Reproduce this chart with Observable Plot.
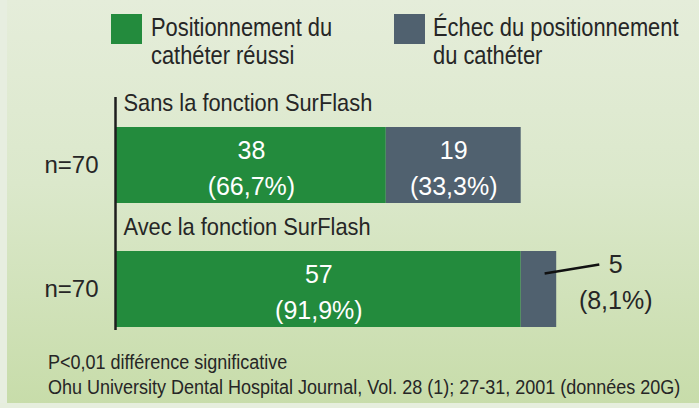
<!DOCTYPE html>
<html>
<head>
<meta charset="utf-8">
<script src="https://cdn.jsdelivr.net/npm/d3@7"></script>
<script src="https://cdn.jsdelivr.net/npm/@observablehq/plot@0.6"></script>
<style>
  html, body { margin: 0; padding: 0; }
  body { width: 699px; height: 408px; overflow: hidden; }
  #wrap {
    position: relative; width: 699px; height: 408px; overflow: hidden;
    background: linear-gradient(180deg, #e5edda 0%, #dbe8cb 45%, #c7dca9 100%);
    font-family: "Liberation Sans", Arial, sans-serif;
    color: #262626;
  }
  #leftstrip { position: absolute; left: 0; top: 0; width: 7px; height: 408px; background: #e7eee0; }
  #bottomstrip { position: absolute; left: 0; bottom: 0; width: 699px; height: 5px; background: #e6eedd; }
  .sw { position: absolute; width: 31px; height: 30px; }
  .lt { position: absolute; font-size: 26.5px; line-height: 28px; white-space: nowrap;
        transform: scaleX(0.825); transform-origin: left top; }
  #chart { position: absolute; left: 0; top: 88px; }
  .fn { position: absolute; left: 48px; font-size: 20px; line-height: 25px; white-space: nowrap;
        transform: scaleX(0.9); transform-origin: left top; }
</style>
</head>
<body>
<div id="wrap">
  <div id="leftstrip"></div>
  <div id="bottomstrip"></div>
  <div id="legend"></div>
  <div id="chart"></div>
  <div id="foot"></div>
</div>
<script>
// ---- data ----
const categories = ["Sans la fonction SurFlash", "Avec la fonction SurFlash"];
const nLabels = ["n=70", "n=70"];
const seriesNames = ["Positionnement du cathéter réussi", "Échec du positionnement du cathéter"];
const legendLines = [["Positionnement du", "cathéter réussi"], ["Échec du positionnement", "du cathéter"]];
const successCounts = [38, 57];
const successPct = ["66,7%", "91,9%"];
const failureCounts = [19, 5];
const failurePct = ["33,3%", "8,1%"];
const seriesColors = ["#238b3d", "#50616f"];
const footnotes = [
  "P<0,01 différence significative",
  "Ohu University Dental Hospital Journal, Vol. 28 (1); 27-31, 2001 (données 20G)"
];

// ---- derived rows ----
const rows = [];
categories.forEach((cat, i) => {
  const a = successCounts[i], b = failureCounts[i];
  rows.push({cat, series: seriesNames[0], x1: 0, x2: a, value: a, pct: successPct[i]});
  rows.push({cat, series: seriesNames[1], x1: a, x2: a + b, value: b, pct: failurePct[i]});
});
rows.forEach(r => { r.mid = (r.x1 + r.x2) / 2; r.label = r.value + "\n(" + r.pct + ")"; });
const inside = rows.filter(r => r.value >= 10);
const outside = rows.filter(r => r.value < 10);
const nRows = categories.map((cat, i) => ({cat, n: nLabels[i]}));

// ---- legend ----
const legendPos = [{sx: 111, tx: 151}, {sx: 394, tx: 433}];
const legend = document.getElementById("legend");
seriesNames.forEach((s, i) => {
  const sw = document.createElement("div");
  sw.className = "sw";
  sw.style.left = legendPos[i].sx + "px";
  sw.style.top = "14px";
  sw.style.background = seriesColors[i];
  legend.appendChild(sw);
  const t = document.createElement("div");
  t.className = "lt";
  t.style.left = legendPos[i].tx + "px";
  t.style.top = "13px";
  t.innerHTML = legendLines[i].join("<br>");
  legend.appendChild(t);
});

// ---- footer ----
const foot = document.getElementById("foot");
footnotes.forEach((f, i) => {
  const d = document.createElement("div");
  d.className = "fn";
  d.style.top = (350 + i * 25) + "px";
  d.textContent = f;
  foot.appendChild(d);
});

// ---- chart ----
const regular = '"Liberation Sans", Arial, sans-serif';
const condense = (k) => function (index, scales, values, dimensions, context, next) {
  const g = next(index, scales, values, dimensions, context);
  d3.select(g).selectAll("text").attr("transform", function () {
    return (this.getAttribute("transform") || "") + " scale(" + k + ",1)";
  });
  return g;
};

const chart = Plot.plot({
  width: 699,
  height: 250,
  marginLeft: 116,
  marginRight: 15,
  marginTop: 9,
  marginBottom: 8,
  style: {background: "transparent", overflow: "visible", fontFamily: regular},
  x: {domain: [0, 80], axis: null},
  y: {domain: categories, axis: null, paddingInner: 0.39, paddingOuter: 0.13, align: 0.895},
  color: {domain: seriesNames, range: seriesColors},
  marks: [
    Plot.barX(rows, {x1: "x1", x2: "x2", y: "cat", fill: "series"}),
    Plot.ruleX([0], {stroke: "#1e1e1e", strokeWidth: 2.5, dx: -1}),
    Plot.text(categories, {x: 0, y: d => d, text: d => d, textAnchor: "start", dx: 7, dy: -62,
      fontSize: 24, fill: "#262626", render: condense(0.91)}),
    Plot.text(nRows, {x: 0, y: "cat", text: "n", textAnchor: "end", dx: -18, fontSize: 24, fill: "#262626"}),
    Plot.text(inside, {x: "mid", y: "cat", text: "label", fill: "white", fontSize: 25, lineHeight: 1.44}),
    Plot.text(outside, {x: "x2", y: "cat", text: "label", dx: 59, dy: -10, fill: "#262626", fontSize: 25, lineHeight: 1.44}),
    Plot.link(outside, {
      x1: d => d.mid + 0.8, x2: d => d.x2 + 6, y1: "cat", y2: "cat",
      stroke: "#111", strokeWidth: 2.5,
      render(index, scales, values, dimensions, context, next) {
        const v = Object.assign({}, values, {
          y1: Array.from(values.y1, y => y - 16),
          y2: Array.from(values.y2, y => y - 25)
        });
        return next(index, scales, v, dimensions, context);
      }
    })
  ]
});
document.getElementById("chart").appendChild(chart);
</script>
</body>
</html>
